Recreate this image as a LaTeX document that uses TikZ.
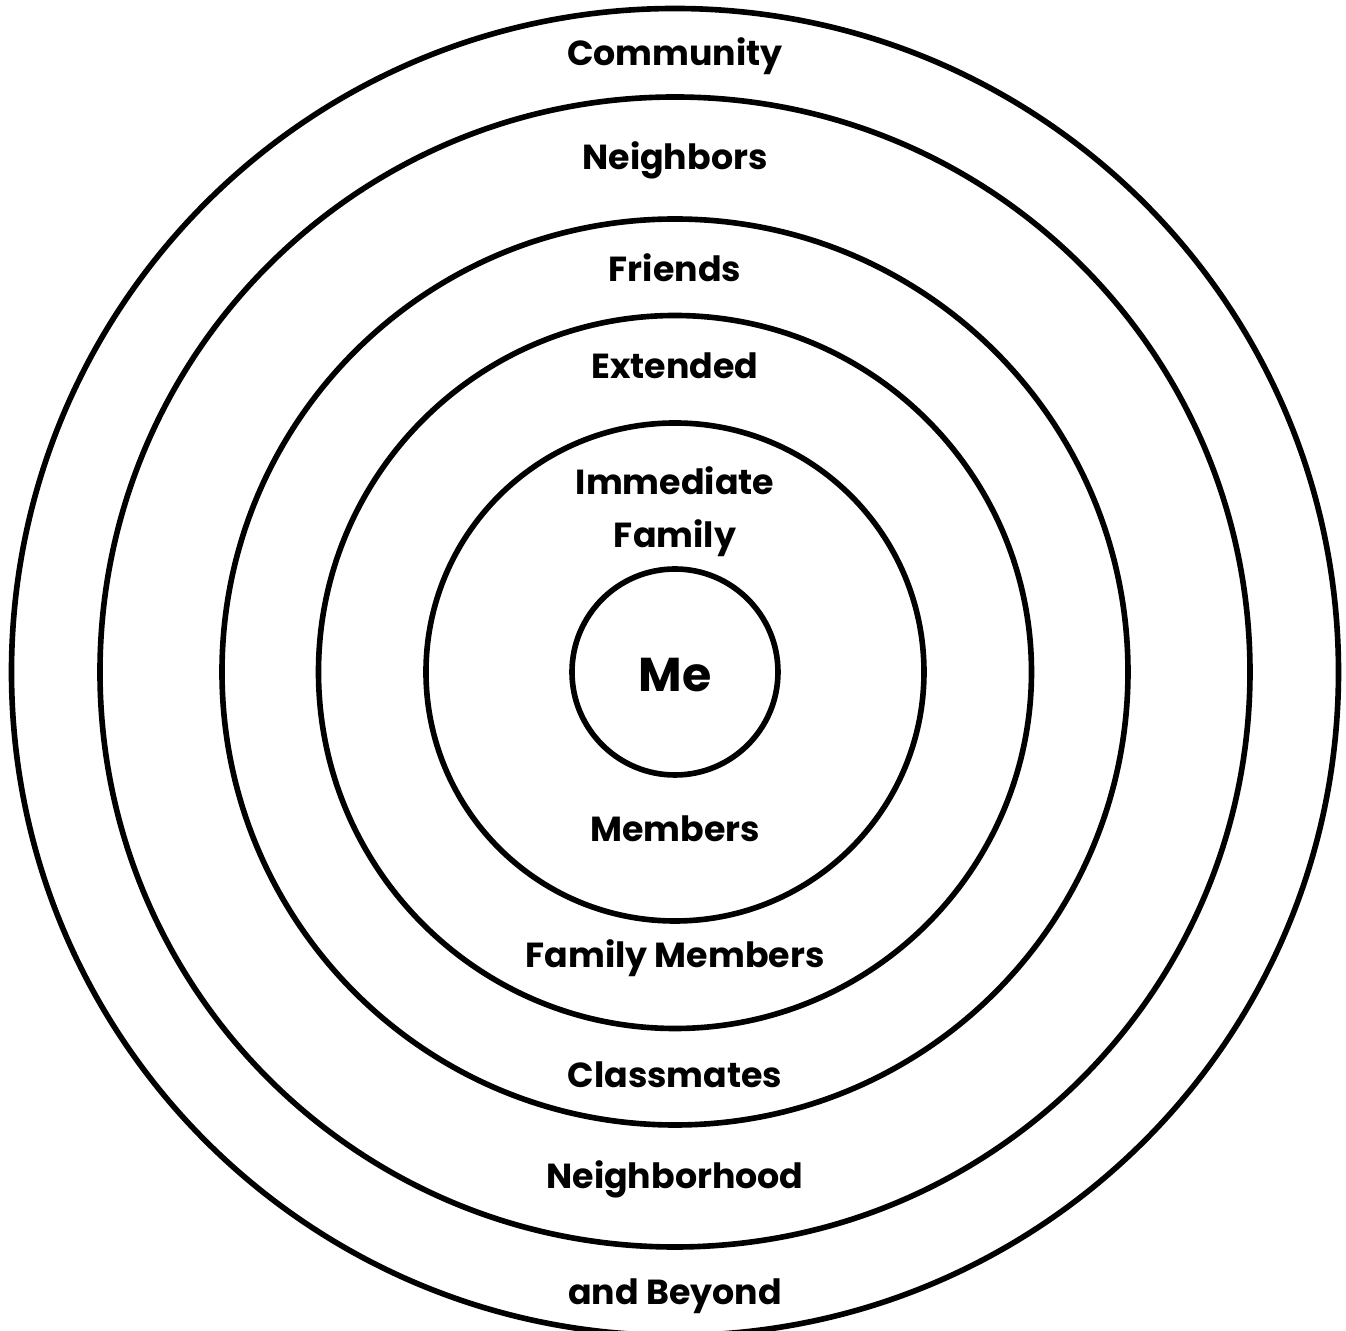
\documentclass[tikz,border=0pt]{standalone}
\usepackage{fontspec}
\setmainfont{Poppins}
\usepackage{tikz}

\tikzset{
  ring/.style={draw=black, line width=3.2pt},
  layer/.style={anchor=base, font=\fontsize{19.8}{23}\selectfont\bfseries, inner sep=0pt}
}

\begin{document}
\begin{tikzpicture}
			\useasboundingbox (-13.5,-13.18) rectangle (13.42,13.44);
			\foreach \r in {2.06, 4.98, 7.13, 9.06, 11.5, 13.27}
				\draw[ring] (0,0) circle (\r);
			\node[layer] (community) at (0,12.12) {Community};
			\node[layer] (neighbors) at (0,10.04) {Neighbors};
			\node[layer] (friends) at (0,7.8) {Friends};
			\node[layer] (extended) at (0,5.86) {Extended};
			\node[layer] (immediate) at (0,3.54) {Immediate};
			\node[layer] (family) at (0,2.48) {Family};
			\node[layer, font=\fontsize{27}{31}\selectfont\bfseries] (me) at (0,-0.4) {Me};
			\node[layer] (members) at (0,-3.4) {Members};
			\node[layer] (famembers) at (0,-5.92) {Family Members};
			\node[layer] (classmates) at (0,-8.32) {Classmates};
			\node[layer] (neighborhood) at (0,-10.34) {Neighborhood};
			\node[layer] (beyond) at (0,-12.66) {and Beyond};
		\end{tikzpicture}
\end{document}
